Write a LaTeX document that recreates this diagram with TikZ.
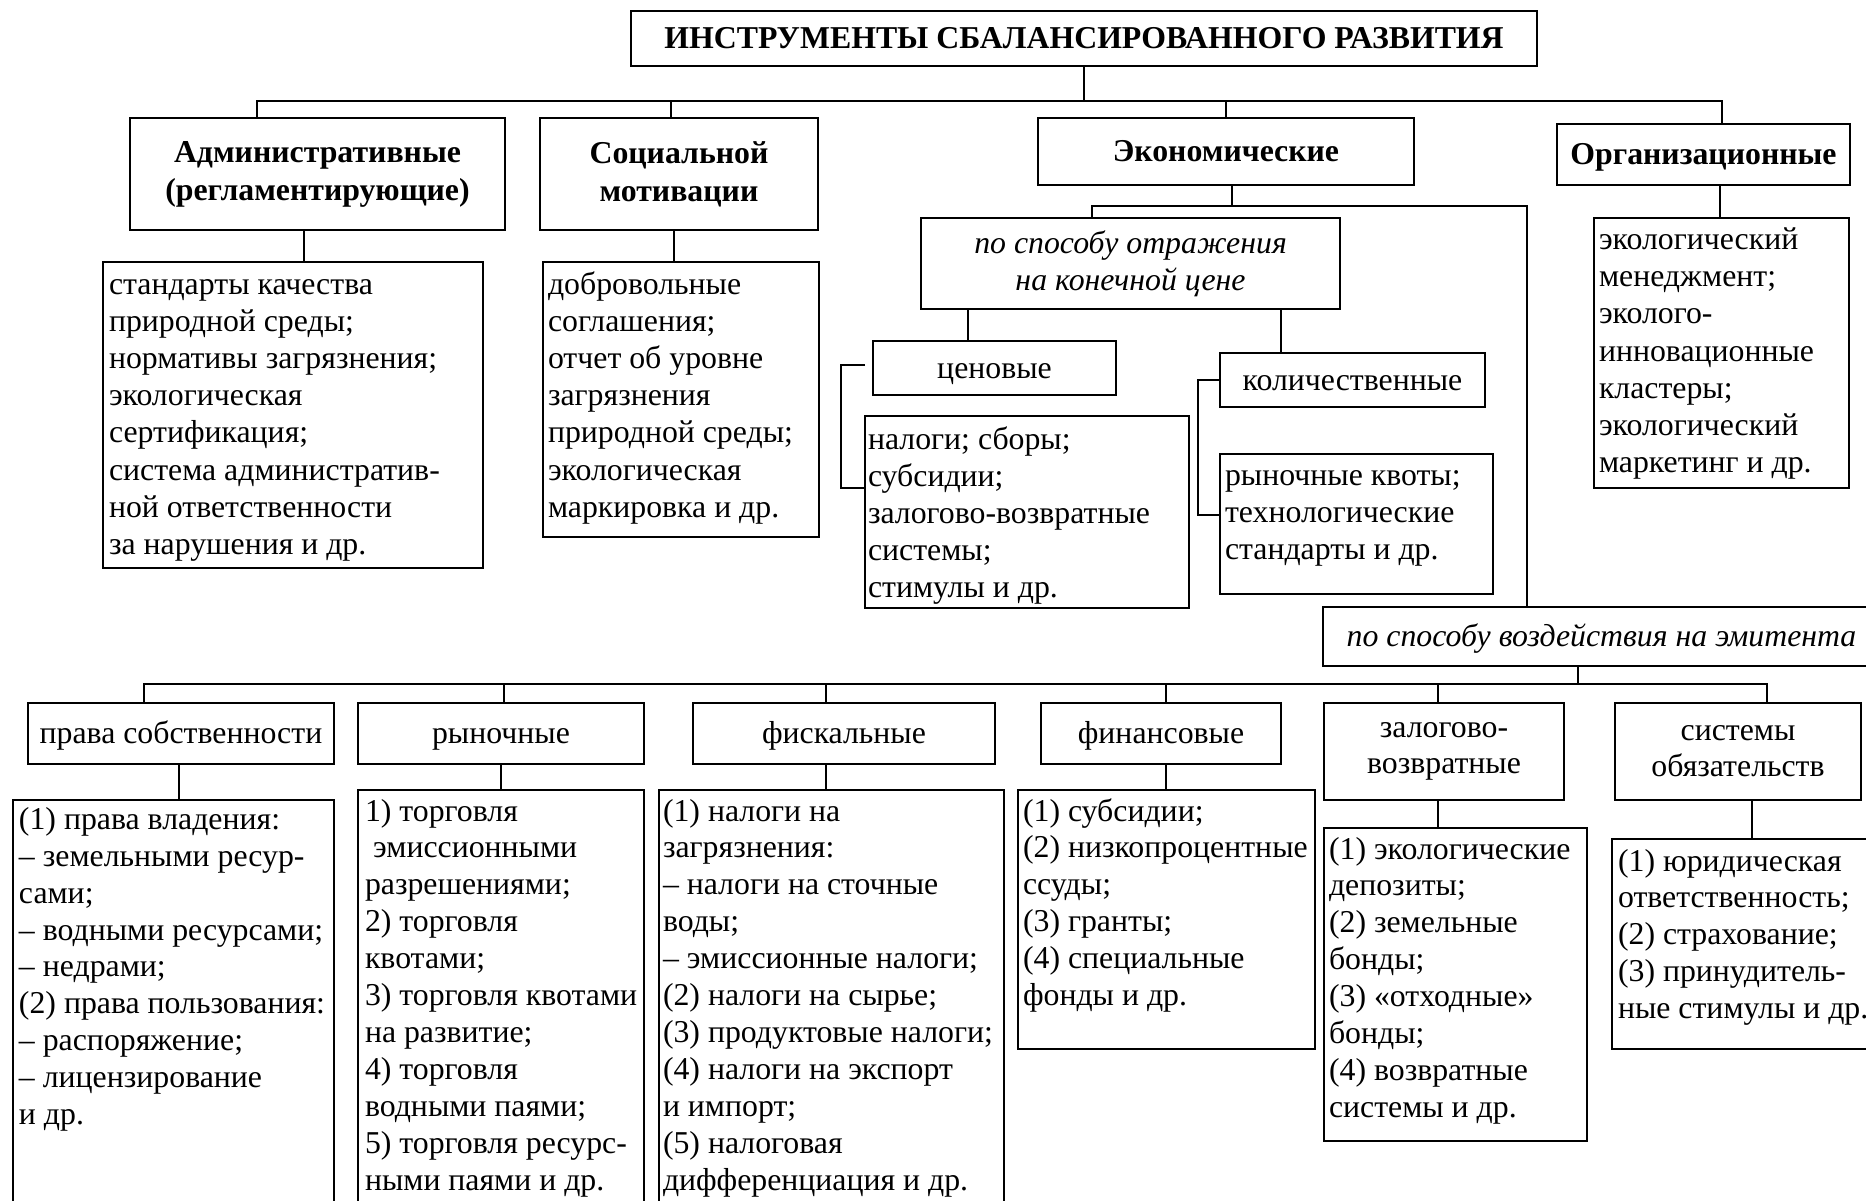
\documentclass[tikz,border=0pt]{standalone}
\usepackage{fontspec}
\setmainfont{Liberation Serif}
\newcommand\bx[4]{\hbox to #1{\vbox to #2{\kern#3\relax#4\vss}\hss}}
\newcommand\li[1]{\hbox{\strut#1}}
\newcommand\fsu{\fontsize{31.8}{37.2}\selectfont}
\newcommand\fsl{\fontsize{31.8}{36.9}\selectfont}
\tikzset{
  hd/.style={draw, line width=2pt, inner sep=0pt, outer sep=0pt, anchor=north west, align=center},
  hs/.style={hd, text height=25pt, text depth=5pt},
  lb/.style={draw, line width=2pt, inner ysep=0pt, outer sep=0pt, anchor=north west},
  conn/.style={line width=1.8pt}
}
\begin{document}
\begin{tikzpicture}[x=1pt,y=-1pt]
\useasboundingbox (0,0) rectangle (1866,1201);
\fill[white] (0,0) rectangle (1866,1201);
\clip (0,0) rectangle (1866,1201);

% headers
\node[hs, font=\fsu\bfseries, minimum width=906pt, minimum height=55pt] (title) at (631,11) {ИНСТРУМЕНТЫ СБАЛАНСИРОВАННОГО РАЗВИТИЯ};
\node[hd, font=\fontsize{31.8}{38}\selectfont\bfseries, minimum width=375pt, minimum height=112pt] (adm) at (130,118) {Административные\\(регламентирующие)};
\node[hd, font=\fontsize{31.8}{38}\selectfont\bfseries, minimum width=278pt, minimum height=112pt] (soc) at (540,118) {Социальной\\мотивации};
\node[hs, font=\fsu\bfseries, minimum width=376pt, minimum height=67pt] (eco) at (1038,118) {Экономические};
\node[hs, font=\fsu\bfseries, minimum width=293pt, minimum height=61pt] (org) at (1557,124) {Организационные};
\node[hd, font=\fontsize{31.8}{37}\selectfont\itshape, minimum width=419pt, minimum height=91pt] (otr) at (921,218) {по способу отражения\\на конечной цене};
\node[hs, font=\fsu, minimum width=243pt, minimum height=54pt] (cen) at (873,341) {ценовые};
\node[hs, font=\fsu, minimum width=265pt, minimum height=54pt] (kol) at (1220,353) {количественные};
\node[hs, font=\fsu\itshape, minimum width=557pt, minimum height=59pt] (voz) at (1323,607) {по способу воздействия на эмитента};
\node[hs, font=\fsl, minimum width=306pt, minimum height=60.5pt] (prs) at (28,703) {права собственности};
\node[hs, font=\fsl, minimum width=286pt, minimum height=60.5pt] (ryn) at (358,703) {рыночные};
\node[hs, font=\fsl, minimum width=302pt, minimum height=60.5pt] (fis) at (693,703) {фискальные};
\node[hs, font=\fsl, minimum width=240pt, minimum height=60.5pt] (fin) at (1041,703) {финансовые};
\node[hd, font=\fontsize{31.8}{36}\selectfont, minimum width=240pt, minimum height=97pt] (zal) at (1324,703) {залогово-\\возвратные};
\node[hd, font=\fontsize{31.8}{36}\selectfont, minimum width=246pt, minimum height=97pt] (sis) at (1615,703) {системы\\обязательств};

% list boxes
\node[lb, font=\fsu, inner xsep=6pt] (admT) at (103,262) {\bx{368pt}{306pt}{6pt}{%
\li{стандарты качества}\li{природной среды;}\li{нормативы загрязнения;}\li{экологическая}%
\li{сертификация;}\li{система административ-}\li{ной ответственности}\li{за нарушения и др.}}};
\node[lb, font=\fsu, inner xsep=5pt] (socT) at (543,262) {\bx{266pt}{275pt}{6pt}{%
\li{добровольные}\li{соглашения;}\li{отчет об уровне}\li{загрязнения}%
\li{природной среды;}\li{экологическая}\li{маркировка и др.}}};
\node[lb, font=\fsu, inner xsep=3pt] (nal) at (865,416) {\bx{318pt}{192pt}{7pt}{%
\li{налоги; сборы;}\li{субсидии;}\li{залогово-возвратные}\li{системы;}\li{стимулы и др.}}};
\node[lb, font=\fsu, inner xsep=5pt] (kvo) at (1220,454) {\bx{263pt}{140pt}{5.5pt}{%
\li{рыночные квоты;}\li{технологические}\li{стандарты и др.}}};
\node[lb, font=\fsu, inner xsep=5pt] (orgT) at (1594,218) {\bx{245pt}{270pt}{5.5pt}{%
\li{экологический}\li{менеджмент;}\li{эколого-}\li{инновационные}%
\li{кластеры;}\li{экологический}\li{маркетинг и др.}}};
\node[lb, font=\fsl, inner xsep=6pt] (prsT) at (13,800) {\bx{309pt}{430pt}{3.5pt}{%
\li{(1) права владения:}\li{– земельными ресур-}\li{сами;}\li{– водными ресурсами;}%
\li{– недрами;}\li{(2) права пользования:}\li{– распоряжение;}\li{– лицензирование}\li{и др.}}};
\node[lb, font=\fsl, inner xsep=7pt] (rynT) at (358,790) {\bx{272pt}{440pt}{5.2pt}{%
\li{1) торговля}\li{\hspace*{8pt}эмиссионными}\li{разрешениями;}\li{2) торговля}\li{квотами;}%
\li{3) торговля квотами}\li{на развитие;}\li{4) торговля}\li{водными паями;}%
\li{5) торговля ресурс-}\li{ными паями и др.}}};
\node[lb, font=\fsl, inner xsep=4pt] (fisT) at (659,790) {\bx{337pt}{440pt}{5.2pt}{%
\li{(1) налоги на}\li{загрязнения:}\li{– налоги на сточные}\li{воды;}\li{– эмиссионные налоги;}%
\li{(2) налоги на сырье;}\li{(3) продуктовые налоги;}\li{(4) налоги на экспорт}%
\li{и импорт;}\li{(5) налоговая}\li{дифференциация и др.}}};
\node[lb, font=\fsl, inner xsep=5pt] (finT) at (1018,790) {\bx{287pt}{259pt}{5.2pt}{%
\li{(1) субсидии;}\li{(2) низкопроцентные}\li{ссуды;}\li{(3) гранты;}\li{(4) специальные}\li{фонды и др.}}};
\node[lb, font=\fsl, inner xsep=5pt] (zalT) at (1324,828) {\bx{253pt}{313pt}{5.2pt}{%
\li{(1) экологические}\li{депозиты;}\li{(2) земельные}\li{бонды;}\li{(3) «отходные»}%
\li{бонды;}\li{(4) возвратные}\li{системы и др.}}};
\node[lb, font=\fsl, inner xsep=6pt] (sisT) at (1612,839) {\bx{290pt}{210pt}{6.2pt}{%
\li{(1) юридическая}\li{ответственность;}\li{(2) страхование;}\li{(3) принудитель-}\li{ные стимулы и др.}}};

% connectors, top
\draw[conn] (title.south) -- ++(0,35);
\draw[conn] ([xshift=-60.5pt]adm.north) -- ++(0,-17) -| ([xshift=18.5pt]org.north);
\draw[conn] ([xshift=-8pt]soc.north) -- ++(0,-17);
\draw[conn] (eco.north) -- ++(0,-17);
\draw[conn] ([xshift=-13.5pt]adm.south) -- ([xshift=11pt]admT.north);
\draw[conn] ([xshift=-5pt]soc.south) -- ([xshift=-7pt]socT.north);
\draw[conn] ([xshift=16.5pt]org.south) -- ([xshift=-1.5pt]orgT.north);
% economic
\draw[conn] ([xshift=6pt]eco.south) -- ++(0,21);
\draw[conn] ([xshift=-38.5pt]otr.north) -- ++(0,-12) -| ([xshift=-74.5pt]voz.north);
\draw[conn] ([xshift=-162.5pt]otr.south) -- ([xshift=-26.5pt]cen.north);
\draw[conn] ([xshift=150.5pt]otr.south) -- ([xshift=-71.5pt]kol.north);
\draw[conn] ([xshift=-8pt,yshift=3pt]cen.west) -- ++(-24,0) |- ([yshift=24pt]nal.west);
\draw[conn] (kol.west) -- ++(-22,0) |- ([yshift=9pt]kvo.west);
% lower bus
\draw[conn] ([xshift=-23.5pt]voz.south) -- ++(0,18);
\draw[conn] ([xshift=-37pt]prs.north) -- ++(0,-19) -| ([xshift=29pt]sis.north);
\draw[conn] ([xshift=3pt]ryn.north) -- ++(0,-19);
\draw[conn] ([xshift=-18pt]fis.north) -- ++(0,-19);
\draw[conn] ([xshift=5pt]fin.north) -- ++(0,-19);
\draw[conn] ([xshift=-6pt]zal.north) -- ++(0,-19);
% lower connectors
\draw[conn] ([xshift=-2pt]prs.south) -- ([xshift=5.5pt]prsT.north);
\draw[conn] (ryn.south) -- (rynT.north);
\draw[conn] ([xshift=-18pt]fis.south) -- ([xshift=-5.5pt]fisT.north);
\draw[conn] ([xshift=5pt]fin.south) -- ([xshift=-0.5pt]finT.north);
\draw[conn] ([xshift=-6pt]zal.south) -- ([xshift=-17.5pt]zalT.north);
\draw[conn] ([xshift=14pt]sis.south) -- ([xshift=-11pt]sisT.north);
\end{tikzpicture}
\end{document}
